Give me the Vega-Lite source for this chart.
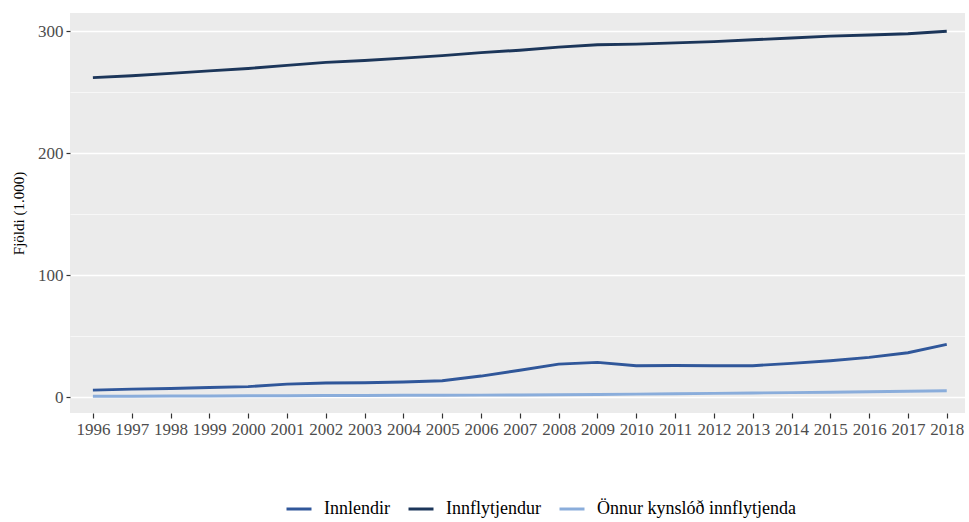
{
  "$schema": "https://vega.github.io/schema/vega-lite/v6.json",
  "autosize": {"type": "none"},
  "width": 895,
  "height": 400,
  "padding": {"left": 70, "top": 13, "right": 4, "bottom": 109},
  "background": "white",
  "config": {
    "font": "Liberation Serif",
    "view": {"fill": "#ebebeb", "stroke": null},
    "axis": {"domain": false, "tickColor": "#333333", "labelColor": "#4d4d4d", "labelFont": "Liberation Serif", "titleFont": "Liberation Serif", "titleFontWeight": "normal"},
    "legend": {"labelFont": "Liberation Serif"}
  },
  "data": {"values": [
    {"ar": 1996, "hopur": "Innflytjendur", "fjoldi": 262},
    {"ar": 1997, "hopur": "Innflytjendur", "fjoldi": 263.5},
    {"ar": 1998, "hopur": "Innflytjendur", "fjoldi": 265.5},
    {"ar": 1999, "hopur": "Innflytjendur", "fjoldi": 267.5},
    {"ar": 2000, "hopur": "Innflytjendur", "fjoldi": 269.5},
    {"ar": 2001, "hopur": "Innflytjendur", "fjoldi": 272},
    {"ar": 2002, "hopur": "Innflytjendur", "fjoldi": 274.5},
    {"ar": 2003, "hopur": "Innflytjendur", "fjoldi": 276},
    {"ar": 2004, "hopur": "Innflytjendur", "fjoldi": 278},
    {"ar": 2005, "hopur": "Innflytjendur", "fjoldi": 280},
    {"ar": 2006, "hopur": "Innflytjendur", "fjoldi": 282.5},
    {"ar": 2007, "hopur": "Innflytjendur", "fjoldi": 284.5},
    {"ar": 2008, "hopur": "Innflytjendur", "fjoldi": 287},
    {"ar": 2009, "hopur": "Innflytjendur", "fjoldi": 289},
    {"ar": 2010, "hopur": "Innflytjendur", "fjoldi": 289.5},
    {"ar": 2011, "hopur": "Innflytjendur", "fjoldi": 290.5},
    {"ar": 2012, "hopur": "Innflytjendur", "fjoldi": 291.5},
    {"ar": 2013, "hopur": "Innflytjendur", "fjoldi": 293},
    {"ar": 2014, "hopur": "Innflytjendur", "fjoldi": 294.5},
    {"ar": 2015, "hopur": "Innflytjendur", "fjoldi": 296},
    {"ar": 2016, "hopur": "Innflytjendur", "fjoldi": 297},
    {"ar": 2017, "hopur": "Innflytjendur", "fjoldi": 298},
    {"ar": 2018, "hopur": "Innflytjendur", "fjoldi": 300},
    {"ar": 1996, "hopur": "Innlendir", "fjoldi": 5.7},
    {"ar": 1997, "hopur": "Innlendir", "fjoldi": 6.5},
    {"ar": 1998, "hopur": "Innlendir", "fjoldi": 7.0},
    {"ar": 1999, "hopur": "Innlendir", "fjoldi": 7.8},
    {"ar": 2000, "hopur": "Innlendir", "fjoldi": 8.5},
    {"ar": 2001, "hopur": "Innlendir", "fjoldi": 10.6},
    {"ar": 2002, "hopur": "Innlendir", "fjoldi": 11.5},
    {"ar": 2003, "hopur": "Innlendir", "fjoldi": 11.7},
    {"ar": 2004, "hopur": "Innlendir", "fjoldi": 12.3},
    {"ar": 2005, "hopur": "Innlendir", "fjoldi": 13.4},
    {"ar": 2006, "hopur": "Innlendir", "fjoldi": 17.2},
    {"ar": 2007, "hopur": "Innlendir", "fjoldi": 22},
    {"ar": 2008, "hopur": "Innlendir", "fjoldi": 27},
    {"ar": 2009, "hopur": "Innlendir", "fjoldi": 28.4},
    {"ar": 2010, "hopur": "Innlendir", "fjoldi": 25.7},
    {"ar": 2011, "hopur": "Innlendir", "fjoldi": 25.9},
    {"ar": 2012, "hopur": "Innlendir", "fjoldi": 25.6},
    {"ar": 2013, "hopur": "Innlendir", "fjoldi": 25.7},
    {"ar": 2014, "hopur": "Innlendir", "fjoldi": 27.6},
    {"ar": 2015, "hopur": "Innlendir", "fjoldi": 29.8},
    {"ar": 2016, "hopur": "Innlendir", "fjoldi": 32.5},
    {"ar": 2017, "hopur": "Innlendir", "fjoldi": 36.3},
    {"ar": 2018, "hopur": "Innlendir", "fjoldi": 43.2},
    {"ar": 1996, "hopur": "Önnur kynslóð innflytjenda", "fjoldi": 0.6},
    {"ar": 1997, "hopur": "Önnur kynslóð innflytjenda", "fjoldi": 0.7},
    {"ar": 1998, "hopur": "Önnur kynslóð innflytjenda", "fjoldi": 0.8},
    {"ar": 1999, "hopur": "Önnur kynslóð innflytjenda", "fjoldi": 0.9},
    {"ar": 2000, "hopur": "Önnur kynslóð innflytjenda", "fjoldi": 1.0},
    {"ar": 2001, "hopur": "Önnur kynslóð innflytjenda", "fjoldi": 1.1},
    {"ar": 2002, "hopur": "Önnur kynslóð innflytjenda", "fjoldi": 1.2},
    {"ar": 2003, "hopur": "Önnur kynslóð innflytjenda", "fjoldi": 1.3},
    {"ar": 2004, "hopur": "Önnur kynslóð innflytjenda", "fjoldi": 1.4},
    {"ar": 2005, "hopur": "Önnur kynslóð innflytjenda", "fjoldi": 1.5},
    {"ar": 2006, "hopur": "Önnur kynslóð innflytjenda", "fjoldi": 1.6},
    {"ar": 2007, "hopur": "Önnur kynslóð innflytjenda", "fjoldi": 1.7},
    {"ar": 2008, "hopur": "Önnur kynslóð innflytjenda", "fjoldi": 1.9},
    {"ar": 2009, "hopur": "Önnur kynslóð innflytjenda", "fjoldi": 2.1},
    {"ar": 2010, "hopur": "Önnur kynslóð innflytjenda", "fjoldi": 2.4},
    {"ar": 2011, "hopur": "Önnur kynslóð innflytjenda", "fjoldi": 2.7},
    {"ar": 2012, "hopur": "Önnur kynslóð innflytjenda", "fjoldi": 3.0},
    {"ar": 2013, "hopur": "Önnur kynslóð innflytjenda", "fjoldi": 3.3},
    {"ar": 2014, "hopur": "Önnur kynslóð innflytjenda", "fjoldi": 3.6},
    {"ar": 2015, "hopur": "Önnur kynslóð innflytjenda", "fjoldi": 3.9},
    {"ar": 2016, "hopur": "Önnur kynslóð innflytjenda", "fjoldi": 4.3},
    {"ar": 2017, "hopur": "Önnur kynslóð innflytjenda", "fjoldi": 4.7},
    {"ar": 2018, "hopur": "Önnur kynslóð innflytjenda", "fjoldi": 5.2}
  ]},
  "mark": {"type": "line", "strokeWidth": 2.9},
  "encoding": {
    "x": {
      "field": "ar", "type": "quantitative",
      "scale": {"domain": [1995.41, 2018.47], "nice": false, "zero": false},
      "axis": {"values": [1996,1997,1998,1999,2000,2001,2002,2003,2004,2005,2006,2007,2008,2009,2010,2011,2012,2013,2014,2015,2016,2017,2018],
        "format": "d", "grid": false, "title": null, "tickSize": 5, "tickWidth": 1.2, "labelFontSize": 17, "labelPadding": 3, "labelColor": "#4d4d4d", "labelFlush": false, "labelOverlap": false}
    },
    "y": {
      "field": "fjoldi", "type": "quantitative",
      "scale": {"domain": [-13.1, 315], "nice": false, "zero": false},
      "axis": {"values": [0, 50, 100, 150, 200, 250, 300],
        "gridColor": "white",
        "gridWidth": {"condition": {"test": "datum.value % 100 === 0", "value": 1.3}, "value": 0.6},
        "tickOpacity": {"condition": {"test": "datum.value % 100 === 0", "value": 1}, "value": 0},
        "labelExpr": "datum.value % 100 === 0 ? datum.label : ''",
        "tickSize": 4, "tickWidth": 1.2, "labelFontSize": 17, "labelPadding": 3,
        "title": "Fjöldi (1.000)", "titleFontSize": 15, "titleColor": "black", "titlePadding": 11}
    },
    "color": {
      "field": "hopur", "type": "nominal",
      "scale": {"domain": ["Innlendir", "Innflytjendur", "Önnur kynslóð innflytjenda"], "range": ["#30579a", "#1c365a", "#8aaddb"]},
      "legend": {"title": null, "orient": "none", "direction": "horizontal", "legendX": 215, "legendY": 482,
        "symbolType": "stroke", "symbolStrokeWidth": 3, "symbolSize": 625, "labelFontSize": 18, "labelLimit": 400, "labelColor": "black", "labelOffset": 11, "columnPadding": 12, "symbolOffset": 0}
    }
  }
}
